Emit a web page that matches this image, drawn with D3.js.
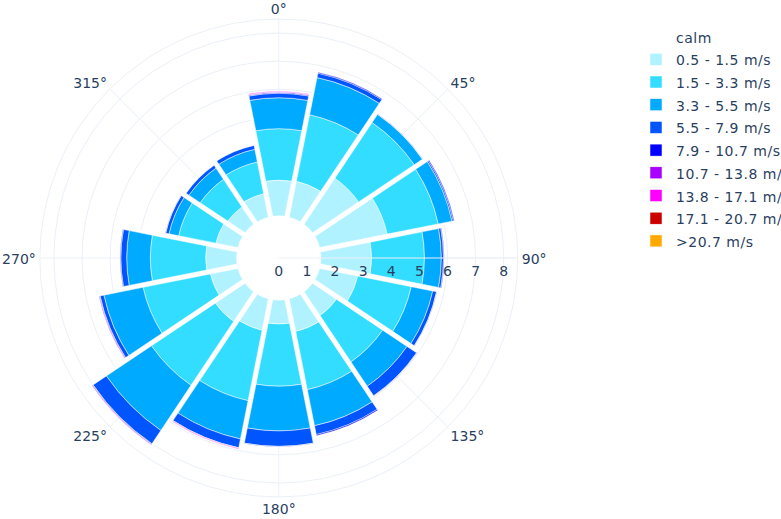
<!DOCTYPE html>
<html>
<head>
<meta charset="utf-8">
<script src="https://cdn.jsdelivr.net/npm/d3@7"></script>
<style>
  html, body { margin: 0; padding: 0; background: #fff; }
  svg { display: block; }
  text { font-family: Verdana, "DejaVu Sans", sans-serif; fill: #2a3f5f; }
</style>
</head>
<body>
<svg id="chart" width="781" height="519"></svg>
<script>
// ---- data ----
const directions = ["N","NNE","NE","ENE","E","ESE","SE","SSE","S","SSW","SW","WSW","W","WNW","NW","NNW"];
const thetaDeg   = [0, 22.5, 45, 67.5, 90, 112.5, 135, 157.5, 180, 202.5, 225, 247.5, 270, 292.5, 315, 337.5];
const binNames = ["calm","0.5 - 1.5 m/s","1.5 - 3.3 m/s","3.3 - 5.5 m/s","5.5 - 7.9 m/s","7.9 - 10.7 m/s","10.7 - 13.8 m/s","13.8 - 17.1 m/s","17.1 - 20.7 m/s",">20.7 m/s"];
const binColors = ["#ffffff","#b0f2ff","#33ddff","#00aaff","#0055ff","#0000ff","#aa00ff","#ff00ff","#cc0000","#ffaa00"];

const calm   = [1.5, 1.5, 1.5, 1.5, 1.5, 1.5, 1.5, 1.5, 1.5, 1.5, 1.5, 1.5, 1.5, 1.5, 1.5, 1.5];
const b05_15 = [1.27, 1.30, 1.97, 2.45, 1.80, 1.38, 1.02, 1.18, 0.85, 1.14, 1.27, 1.00, 1.10, 0.80, 0.74, 0.85];
const b15_33 = [1.83, 2.41, 2.38, 1.85, 1.88, 1.94, 1.98, 2.11, 2.21, 2.55, 2.73, 2.44, 1.97, 1.35, 1.18, 1.15];
const b33_55 = [1.10, 1.35, 0.35, 0.50, 0.60, 0.78, 1.04, 1.31, 1.59, 1.39, 1.93, 1.42, 0.84, 0.35, 0.48, 0.46];
const b55_79 = [0.16, 0.16, 0.01, 0.05, 0.08, 0.14, 0.41, 0.32, 0.55, 0.32, 0.57, 0.14, 0.21, 0.12, 0.12, 0.14];
const b79_107  = [0.03, 0.03, 0.00, 0.03, 0.02, 0.01, 0.01, 0.04, 0.01, 0.01, 0.02, 0.02, 0.02, 0.01, 0.00, 0.00];
const b107_138 = [0.02, 0.00, 0.00, 0.00, 0.00, 0.00, 0.00, 0.00, 0.00, 0.01, 0.02, 0.02, 0.00, 0.00, 0.00, 0.00];
const b138_171 = [0.02, 0.00, 0.00, 0.00, 0.00, 0.00, 0.00, 0.00, 0.00, 0.02, 0.00, 0.00, 0.00, 0.00, 0.00, 0.00];
const b171_207 = [0, 0, 0, 0, 0, 0, 0, 0, 0, 0, 0, 0, 0, 0, 0, 0];
const b207     = [0, 0, 0, 0, 0, 0, 0, 0, 0, 0, 0, 0, 0, 0, 0, 0];

const radialTicks = [0, 1, 2, 3, 4, 5, 6, 7, 8];
const angularTicks = [0, 45, 90, 135, 180, 225, 270, 315];
const radialMax = 8.5;

// ---- build table ----
const seriesArrays = [calm, b05_15, b15_33, b33_55, b55_79, b79_107, b107_138, b138_171, b171_207, b207];
const table = directions.map((d, i) => {
  const row = { dir: d, theta: thetaDeg[i] };
  binNames.forEach((b, k) => { row[b] = seriesArrays[k][i]; });
  return row;
});
const stacked = d3.stack().keys(binNames)(table);

// ---- layout ----
const svg = d3.select("#chart");
const cx = 278.8, cy = 258;
const R = 239;
const r = d3.scaleLinear().domain([0, radialMax]).range([0, R]);
const ang = d3.scaleLinear().domain([0, 360]).range([0, 2 * Math.PI]);
const halfW = 11.25;
const gridColor = "#ebf0f8";

const g = svg.append("g").attr("transform", `translate(${cx},${cy})`);

// grid circles
const gridG = g.append("g");
radialTicks.filter(t => t > 0).forEach(t => {
  gridG.append("circle").attr("r", r(t)).attr("fill", "none")
    .attr("stroke", gridColor).attr("stroke-width", 1);
});
gridG.append("circle").attr("r", r(radialMax)).attr("fill", "none")
  .attr("stroke", gridColor).attr("stroke-width", 1);
// spokes
angularTicks.forEach(a => {
  const t = ang(a);
  gridG.append("line").attr("x1", 0).attr("y1", 0)
    .attr("x2", R * Math.sin(t)).attr("y2", -R * Math.cos(t))
    .attr("stroke", gridColor).attr("stroke-width", 1);
});

// white backing (unpadded) to hide grid under bars and gaps
const fullArc = d3.arc();
const totals = stacked[stacked.length - 1];
g.append("g").selectAll("path").data(totals).join("path")
  .attr("d", d => fullArc({
    innerRadius: 0, outerRadius: r(d[1]),
    startAngle: ang(d.data.theta - halfW), endAngle: ang(d.data.theta + halfW)
  }))
  .attr("fill", "#ffffff");

// stacked segments
const segArc = d3.arc().padRadius(100).padAngle(0.046);
const barsG = g.append("g");
stacked.forEach((layer, k) => {
  barsG.append("g").selectAll("path")
    .data(layer.filter(d => d[1] - d[0] > 0))
    .join("path")
    .attr("d", d => segArc({
      innerRadius: r(d[0]), outerRadius: r(d[1]),
      startAngle: ang(d.data.theta - halfW), endAngle: ang(d.data.theta + halfW)
    }))
    .attr("fill", binColors[k])
    .attr("stroke", "#ffffff")
    .attr("stroke-width", 0.5);
});

// radial axis line (above traces)
g.append("line").attr("x1", 0).attr("y1", 0).attr("x2", R).attr("y2", 0)
  .attr("stroke", gridColor).attr("stroke-width", 1);

// radial tick labels
g.append("g").selectAll("text").data(radialTicks).join("text")
  .attr("x", d => r(d)).attr("y", 18)
  .attr("text-anchor", "middle")
  .attr("font-size", 14)
  .text(d => d);

// angular labels
const pad = 4;
g.append("g").selectAll("text").data(angularTicks).join("text")
  .attr("x", a => (R + pad) * Math.sin(ang(a)))
  .attr("y", a => {
    const t = ang(a);
    const py = -(R + pad) * Math.cos(t);
    const center = py - Math.cos(t) * 7 + 1.3;
    return center + 5;
  })
  .attr("text-anchor", a => {
    const s = Math.sin(ang(a));
    return s > 0.01 ? "start" : (s < -0.01 ? "end" : "middle");
  })
  .attr("font-size", 14)
  .text(a => a + "°");

// legend
const leg = svg.append("g");
binNames.forEach((name, i) => {
  const yc = 37.6 + 22.7 * i;
  leg.append("rect")
    .attr("x", 650).attr("y", yc - 7).attr("width", 12).attr("height", 12)
    .attr("fill", binColors[i]).attr("stroke", "#ffffff").attr("stroke-width", 0.5);
  leg.append("text")
    .attr("x", 676).attr("y", yc + 5)
    .attr("font-size", 14)
    .attr("letter-spacing", "0.5px")
    .text(name);
});
</script>
</body>
</html>
